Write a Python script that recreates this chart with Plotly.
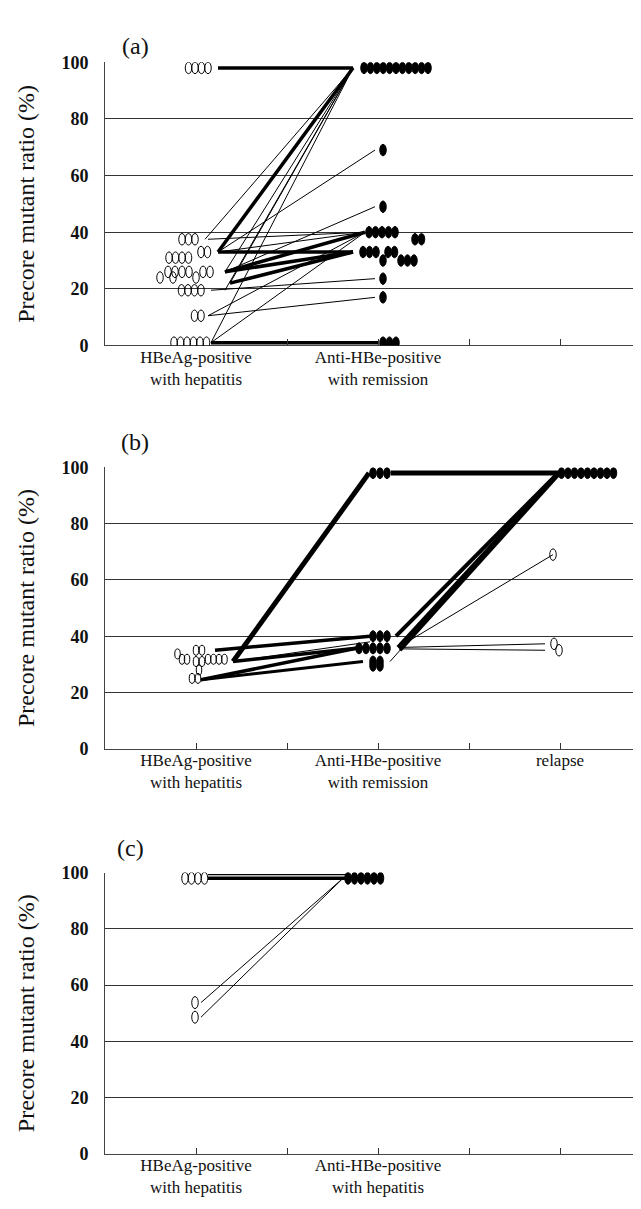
import plotly.graph_objects as go

# ---------------- data ----------------
# stage categories on the x axis (1 = first stage, 3 = second, 5 = relapse)
stage_ticks = [1, 2, 3, 4, 5]
a_ticktext = ["HBeAg-positive<br>with hepatitis", "", "Anti-HBe-positive<br>with remission", "", ""]
b_ticktext = ["HBeAg-positive<br>with hepatitis", "", "Anti-HBe-positive<br>with remission", "", "relapse"]
c_ticktext = ["HBeAg-positive<br>with hepatitis", "", "Anti-HBe-positive<br>with hepatitis", "", ""]
y_ticks = [0, 20, 40, 60, 80, 100]

# Panel (a): precore mutant ratio (%) per patient
a_hep = [98, 98, 98, 98, 37.5, 37.5, 37.5, 33, 33, 31, 31, 31, 31,
         26, 26, 26, 26, 26, 26, 24, 24, 24, 19.5, 19.5, 19.5, 19.5,
         10.5, 10.5, 1, 1, 1, 1, 1, 1]
a_rem = [98, 98, 98, 98, 98, 98, 98, 98, 98, 98, 98, 69, 49,
         40, 40, 40, 40, 40, 37.5, 37.5, 33, 33, 33, 33, 33,
         30, 30, 30, 30, 23.6, 17, 1, 1, 1]
# connections (value at stage 1 -> value at stage 3)
a_from = [98, 33, 33, 26, 26, 22, 1, 37.5, 37.5, 33, 33, 26, 19.5, 10.5, 10.5, 1, 19.5, 22, 1, 26]
a_to = [98, 98, 33, 40, 33, 33, 1, 98, 40, 69, 40, 49, 23.6, 17, 40, 98, 98, 98, 40, 98]

# Panel (b)
b_hep = [33.7, 31.8, 31.8, 35, 35, 31, 31, 28, 25, 25, 31.8, 31.8, 31.8, 31.8]
b_rem = [98, 98, 98, 40, 40, 40, 35.7, 35.7, 35.7, 35.7, 35.7, 31, 31, 29.5, 29.5]
b_rel_mut = [98, 98, 98, 98, 98, 98, 98, 98, 98]
b_rel_wild = [69, 37.3, 35]
b_from_stage = [1, 3, 1, 1, 1, 1, 3, 3, 3, 1, 3, 3, 3, 3]
b_to_stage = [3, 5, 3, 3, 3, 3, 5, 5, 5, 3, 5, 5, 5, 5]
b_from = [31, 98, 35, 31, 24.5, 24.5, 40, 36, 35, 31, 31, 36, 36, 35.5]
b_to = [98, 98, 40, 36, 36, 31, 98, 98, 98, 38, 98, 69, 37.3, 35]

# Panel (c)
c_hep = [98, 98, 98, 98, 53.8, 48.6]
c_rem = [98, 98, 98, 98, 98, 98]
c_from = [98, 99.3, 53.8, 48.6]
c_to = [98, 99.3, 98, 98]

# ---------------- layout / styling (pixel offsets, sizes) ----------------
FIG_W, FIG_H = 641, 1209
X_LEFT_PX = 97
XMAX = 5.978
PPU = (FIG_W - X_LEFT_PX) / XMAX  # pixels per x unit

# horizontal pixel offsets of the stacked markers around their stage
a_hep_dx = [-7.5, -1, 5.5, 12, -14, -7.5, -1, 5, 11.5, -27, -20.5, -14, -7.5,
            -28, -21, -14, -7, 7, 14, -36, -23, 0, -14.5, -8, -1.5, 5,
            -1.5, 5, -22, -15.5, -9, -2.5, 4, 10.5]
a_rem_dx = [-14, -7.6, -1.2, 5.2, 11.6, 18, 24.4, 30.8, 37.2, 43.6, 50, 5, 5,
            -9, -2.5, 4, 10.5, 17, 37, 43.5, -15, -8.5, -2, 10, 16.5,
            5, 23, 29.5, 36, 5, 5, 5, 11.5, 18]
a_dx0 = [22, 22, 22, 29, 29, 34, 15, 9, 12, 22, 22, 29, 15, 12, 12, 15, 29, 34, 15, 29]
a_dx1 = [-25, -25, -25, -13, -25, -25, 0, -25, -13, -3, -13, -3, -3, -3, -13, -25, -25, -25, -13, -25]
a_lw = [3.5, 3.5, 3.5, 3.5, 3.5, 3.5, 3.5, 1, 1, 1, 1, 1, 1, 1, 1, 1, 1, 1, 1, 1]

b_hep_dx = [-18.5, -14, -9, 0, 6, 0, 6, 3, -4, 2, 12, 17.5, 23, 28.5]
b_rem_dx = [-5, 2, 9, -5, 2, 9, -19, -12, -5, 2, 9, -5, 2, -5, 2]
b_rel_mut_dx = [1.5, 8, 14.5, 21, 27.5, 34, 40.5, 47, 53.5]
b_rel_wild_dx = [-7, -6, -1]
b_dx0 = [37, 13, 19, 37, 5, 5, 18, 20, 22, 37, 12, 20, 22, 22]
b_dx1 = [-9, -2, -8, -15, -18, -15, -2, -2, 0, -8, -2, -7, -15, -15]
b_lw = [5, 5, 3.5, 3.5, 3.5, 3, 4, 4, 3.5, 1, 1, 1, 1, 1]

c_hep_dx = [-11, -4.5, 2, 8.5, -1, -1]
c_rem_dx = [-30, -23.5, -17, -10.5, -4, 2.5]
c_dx0 = [12, 12, 5, 5]
c_dx1 = [-33, -33, -35, -35]
c_lw = [3.5, 1.2, 1, 1]

SERIF = "Liberation Serif, Times New Roman, serif"

# panel pixel extents (top = value 100, bottom = value 0)
panels = [
    dict(top=45, bottom=333, label="(a)", lx=127, ly=28, ticktext=a_ticktext),
    dict(top=457, bottom=743, label="(b)", lx=127, ly=431, ticktext=b_ticktext),
    dict(top=869, bottom=1155, label="(c)", lx=122, ly=844, ticktext=c_ticktext),
]

fig = go.Figure()
shapes = []


def xs(stage, dx):
    return stage + dx / PPU


def add_lines(axis_n, from_stage, to_stage, from_vals, to_vals, dx0, dx1, widths):
    xa = "x" if axis_n == 1 else f"x{axis_n}"
    ya = "y" if axis_n == 1 else f"y{axis_n}"
    for s0, s1, v0, v1, d0, d1, w in zip(from_stage, to_stage, from_vals, to_vals, dx0, dx1, widths):
        fig.add_trace(go.Scatter(
            x=[xs(s0, d0), xs(s1, d1)], y=[v0, v1], mode="lines",
            line=dict(color="black", width=w), xaxis=xa, yaxis=ya,
            showlegend=False, hoverinfo="skip"))


def add_ellipses(axis_n, stage, vals, dxs, filled, w, h):
    xa = "x" if axis_n == 1 else f"x{axis_n}"
    ya = "y" if axis_n == 1 else f"y{axis_n}"
    for v, d in zip(vals, dxs):
        shapes.append(dict(
            type="circle", xref=xa, yref=ya,
            xsizemode="pixel", ysizemode="pixel",
            xanchor=xs(stage, d), yanchor=v,
            x0=-w / 2, x1=w / 2, y0=-h / 2, y1=h / 2,
            line=dict(color="black", width=1),
            fillcolor="black" if filled else "rgba(255,255,255,0)",
            layer="above"))


# panel (a)
add_lines(1, [1] * len(a_from), [3] * len(a_to), a_from, a_to, a_dx0, a_dx1, a_lw)
add_ellipses(1, 1, a_hep, a_hep_dx, False, 6.5, 11.5)
add_ellipses(1, 3, a_rem, a_rem_dx, True, 6.5, 11.5)

# panel (b)
add_lines(2, b_from_stage, b_to_stage, b_from, b_to, b_dx0, b_dx1, b_lw)
add_ellipses(2, 1, b_hep, b_hep_dx, False, 5.5, 10)
add_ellipses(2, 3, b_rem, b_rem_dx, True, 6.5, 11)
add_ellipses(2, 5, b_rel_mut, b_rel_mut_dx, True, 6.5, 11)
add_ellipses(2, 5, b_rel_wild, b_rel_wild_dx, False, 6.5, 11.5)

# panel (c)
add_lines(3, [1] * len(c_from), [3] * len(c_to), c_from, c_to, c_dx0, c_dx1, c_lw)
add_ellipses(3, 1, c_hep, c_hep_dx, False, 6.5, 12)
add_ellipses(3, 3, c_rem, c_rem_dx, True, 6.5, 12)

layout = dict(
    width=FIG_W, height=FIG_H,
    margin=dict(l=0, r=0, t=0, b=0),
    paper_bgcolor="white", plot_bgcolor="white",
    showlegend=False,
    shapes=shapes,
    annotations=[],
)

for i, p in enumerate(panels, start=1):
    sfx = "" if i == 1 else str(i)
    ydom = [1 - p["bottom"] / FIG_H, 1 - p["top"] / FIG_H]
    layout["xaxis" + sfx] = dict(
        domain=[X_LEFT_PX / FIG_W, 1], range=[0, XMAX],
        anchor="y" + sfx,
        tickmode="array", tickvals=stage_ticks, ticktext=p["ticktext"],
        ticks="inside", ticklen=6, tickcolor="#333", tickwidth=1,
        showline=True, linecolor="#444", linewidth=1,
        showgrid=False, zeroline=False,
        tickfont=dict(family=SERIF, size=17, color="#111"),
        ticklabelstandoff=-4,
    )
    layout["yaxis" + sfx] = dict(
        domain=ydom, range=[0, 100],
        anchor="x" + sfx,
        tickmode="array", tickvals=y_ticks,
        showline=True, linecolor="#444", linewidth=1,
        showgrid=True, gridcolor="#333", gridwidth=1,
        zeroline=False, ticks="",
        tickfont=dict(family=SERIF, size=18, color="#111", weight="bold"),
        ticklabelstandoff=12,
        title=dict(text="Precore mutant ratio (%)",
                   font=dict(family=SERIF, size=24, color="#111"),
                   standoff=19),
    )
    layout["annotations"].append(dict(
        text=p["label"], xref="paper", yref="paper",
        x=p["lx"] / FIG_W, y=1 - p["ly"] / FIG_H,
        xanchor="center", yanchor="middle", showarrow=False,
        font=dict(family=SERIF, size=24, color="#111")))

fig.update_layout(**layout)
fig.write_html("out.html")
